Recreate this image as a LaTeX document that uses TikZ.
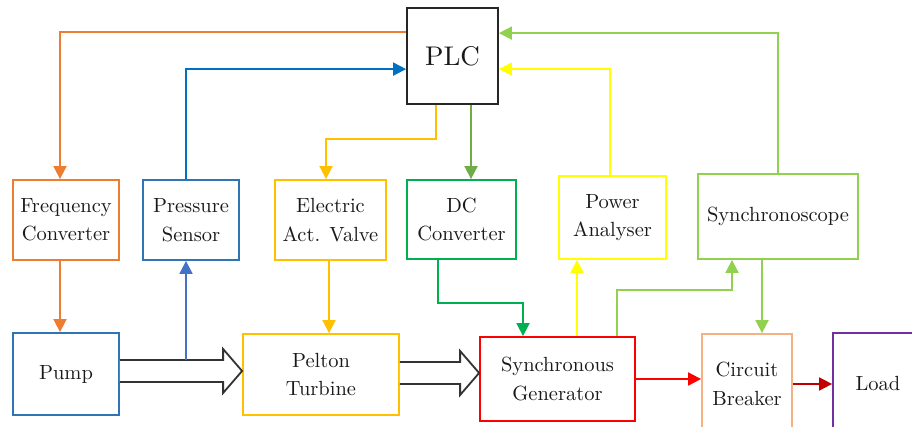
\documentclass[tikz,border=0pt]{standalone}
\usepackage{fontspec}
\setmainfont{lmroman10-regular.otf}
\usepackage{tikz}
\usetikzlibrary{arrows.meta,positioning,calc}
\tikzset{
  boxln/.style={draw=#1, line width=1.8pt, inner sep=0pt, align=center,
    text=black!90, font=\fontsize{20.5}{28.5}\selectfont},
  sigln/.style={draw=#1, line width=1.8pt, -{Triangle[length=13pt,width=13pt]}},
  fatln/.style={draw=black!80, fill=white, line width=1.8pt, line join=miter},
}
\newcommand{\hollowarrow}[2]{%
  \draw[fatln] let \p1=#1, \p2=#2 in
    (\x1,\y1+11pt) -- (\x2-19pt,\y1+11pt) -- (\x2-19pt,\y1+22pt)
    -- (\x2,\y1) -- (\x2-19pt,\y1-22pt) -- (\x2-19pt,\y1-11pt)
    -- (\x1,\y1-11pt);
}
\definecolor{plccolor}{RGB}{38,38,38}
\definecolor{freqcolor}{RGB}{237,125,49}
\definecolor{senscolor}{RGB}{46,117,182}
\definecolor{linkcolor}{RGB}{0,112,192}
\definecolor{tapcolor}{RGB}{68,114,196}
\definecolor{valvecolor}{RGB}{255,192,0}
\definecolor{dccolor}{RGB}{0,176,80}
\definecolor{cmdcolor}{RGB}{112,173,71}
\definecolor{pwrcolor}{RGB}{255,255,0}
\definecolor{synccolor}{RGB}{146,208,80}
\definecolor{gencolor}{RGB}{255,0,0}
\definecolor{cbcolor}{RGB}{244,177,131}
\definecolor{feedcolor}{RGB}{192,0,0}
\definecolor{loadcolor}{RGB}{112,48,160}

\begin{document}
\begin{tikzpicture}[x=1pt, y=-1pt]
    \path[use as bounding box, clip] (0,0) rectangle (912,427);
    % controller and field devices
    \node[boxln=plccolor, minimum width=91pt, minimum height=96pt,
      font=\fontsize{27}{32}\selectfont] (plc) at (452.5,56) {PLC};
    \node[boxln=freqcolor, minimum width=106pt, minimum height=80pt] (freq)
      at (66,220) {Frequency\\Converter};
    \node[boxln=senscolor, minimum width=96pt, minimum height=80pt] (sensor)
      at (191,220) {Pressure\\Sensor};
    \node[boxln=valvecolor, minimum width=111pt, minimum height=80pt] (valve)
      at (330.5,220) {Electric\\Act. Valve};
    \node[boxln=dccolor, minimum width=109pt, minimum height=79pt] (dcconv)
      at (461.5,219.5) {DC\\Converter};
    \node[boxln=pwrcolor, minimum width=107pt, minimum height=83pt] (analyser)
      at (612.5,217.5) {Power\\Analyser};
    \node[boxln=synccolor, minimum width=160pt, minimum height=85pt] (syncscope)
      at (778,216.5) {Synchronoscope};
    % power path
    \node[boxln=senscolor, minimum width=106pt, minimum height=82pt] (pump)
      at (66,374) {Pump};
    \node[boxln=valvecolor, minimum width=156pt, minimum height=81pt] (pelton)
      at (321,374.5) {Pelton\\Turbine};
    \node[boxln=gencolor, minimum width=155pt, minimum height=84pt] (gen)
      at (557.5,379) {Synchronous\\Generator};
    \node[boxln=cbcolor, minimum width=90pt, minimum height=100pt] (breaker)
      at (747,384) {Circuit\\Breaker};
    \node[boxln=loadcolor, minimum width=90pt, minimum height=100pt] (load)
      at (878,383) {Load};
    % commands from the PLC
    \draw[sigln=freqcolor] ([yshift=-25pt]plc.north west) -| ([xshift=-6pt]freq.north);
    \draw[sigln=valvecolor] ([xshift=30pt]plc.south west) -- ++(0,34)
      -| ([xshift=-4.5pt]valve.north);
    \draw[sigln=cmdcolor] ([xshift=18.5pt]plc.south)
      -- ([xshift=18.5pt]plc.south |- dcconv.north);
    % measurements back to the PLC
    \draw[sigln=linkcolor] ([xshift=-5pt]sensor.north) |- ([yshift=-62pt]plc.north west);
    \draw[sigln=pwrcolor] ([xshift=-2.5pt]analyser.north) |- ([yshift=-62pt]plc.north east);
    \draw[sigln=synccolor] (syncscope.north) |- ([yshift=-26pt]plc.north east);
    % water and shaft flow
    \hollowarrow{([yshift=3pt]pump.east)}{(pelton.west)}
    \hollowarrow{([yshift=1.5pt]pelton.east)}{(gen.west)}
    \coordinate (tap) at ([xshift=-5pt]sensor.south |- 0,360);
    % field links
    \draw[sigln=tapcolor] (tap) -- ([xshift=-5pt]sensor.south);
    \draw[sigln=freqcolor] ([xshift=-6pt]freq.south) -- ([xshift=-6pt]pump.north);
    \draw[sigln=valvecolor] ([xshift=-1.5pt]valve.south)
      -- ([xshift=-1.5pt]valve.south |- pelton.north);
    \draw[sigln=dccolor] ([xshift=-23.5pt]dcconv.south) -- ++(0,43)
      -| ([xshift=-34.5pt]gen.north);
    \draw[sigln=pwrcolor] ([xshift=19.5pt]gen.north)
      -- ([xshift=19.5pt]gen.north |- analyser.south);
    \draw[sigln=synccolor] ([xshift=59.5pt]gen.north) -- ++(0,-46)
      -| ([xshift=-46pt]syncscope.south);
    \draw[sigln=synccolor] ([xshift=-16pt]syncscope.south)
      -- ([xshift=-16pt]syncscope.south |- breaker.north);
    \draw[sigln=gencolor] (gen.east) -- (gen.east -| breaker.west);
    \draw[sigln=feedcolor] (breaker.east) -- (breaker.east -| load.west);
  \end{tikzpicture}
\end{document}
